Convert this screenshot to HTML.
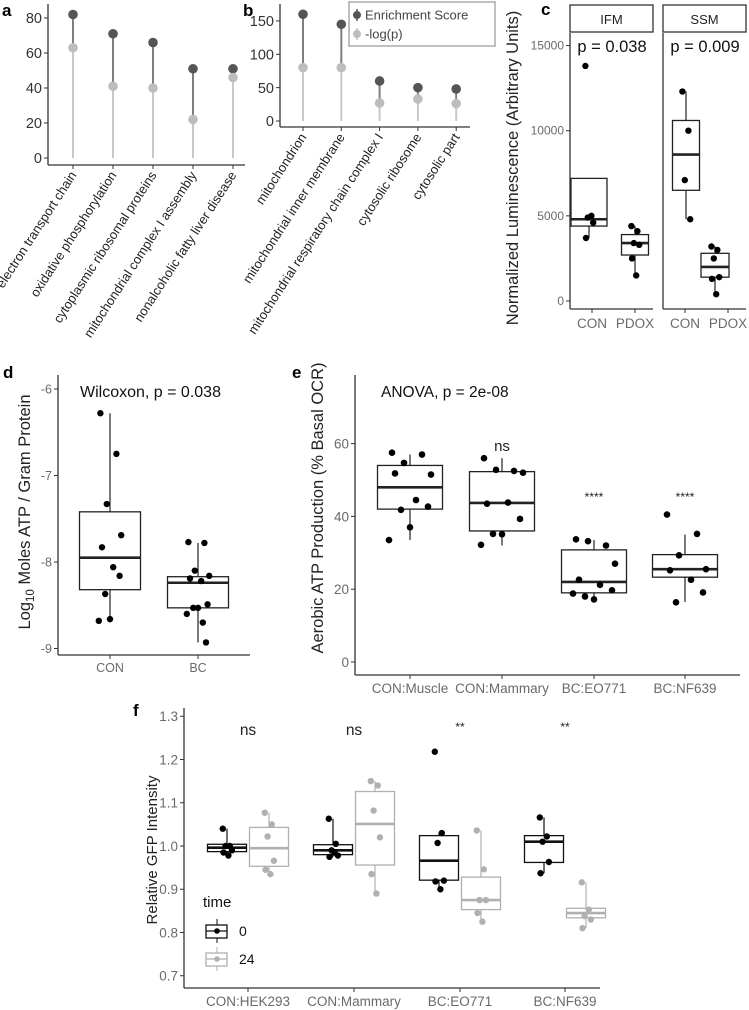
<!DOCTYPE html>
<html><head><meta charset="utf-8"><style>
html,body{margin:0;padding:0;background:#fff}
svg{display:block;font-family:"Liberation Sans",Arial,sans-serif}
</style></head><body>
<svg id="fig" width="749" height="1010" viewBox="0 0 749 1010">
<g id="pa"></g>
<g id="pb"></g>
<g id="pc"></g>
<g id="pd"></g>
<g id="pe"></g>
<g id="pf"></g>
</svg>
<script>
// ---- Panel a data
const aCats=["electron transport chain","oxidative phosphorylation","cytoplasmic ribosomal proteins","mitochondrial complex I assembly","nonalcoholic fatty liver disease"];
const aES=[82,71,66,51,51];
const aLogP=[63,41,40,22,46];
const aTicks=[0,20,40,60,80];
// ---- Panel b data
const bCats=["mitochondrion","mitochondrial inner membrane","mitochondrial respiratory chain complex I","cytosolic ribosome","cytosolic part"];
const bES=[160,145,60,50,48];
const bLogP=[80,80,27,33,26];
const bTicks=[0,50,100,150];
// ---- Panel c data
const cGroups=["IFM CON","IFM PDOX","SSM CON","SSM PDOX"];
const cBoxes=[[3700,4400,4800,7200,7200],[1500,2700,3400,3900,4400],[4800,6500,8600,10600,12300],[400,1400,2000,2800,3200]];
const cPoints=[[13800,5000,4900,4600,3700],[4400,4100,3400,3300,2500,1500],[12300,10000,7100,4800],[3200,3000,2500,1400,1300,400]];
const cTicks=[0,5000,10000,15000];
// ---- Panel d data
const dCats=["CON","BC"];
const dBoxes=[[-8.7,-8.32,-7.95,-7.42,-6.28],[-8.93,-8.53,-8.24,-8.17,-7.78]];
const dPoints=[[-6.28,-6.75,-7.33,-7.69,-7.83,-8.06,-8.16,-8.37,-8.66,-8.68],[-7.77,-7.78,-8.1,-8.16,-8.19,-8.22,-8.49,-8.53,-8.53,-8.6,-8.7,-8.93]];
const dTicks=[-9,-8,-7,-6];
// ---- Panel e data
const eCats=["CON:Muscle","CON:Mammary","BC:EO771","BC:NF639"];
const eBoxes=[[33.5,42,48,54,57],[32,36,43.7,52.3,56],[17,19,22,30.8,33.5],[16.5,23.3,25.5,29.5,35]];
const ePoints=[[57.5,57,54.7,51.5,51.8,44.5,42.7,41.8,37,33.5],[56,52.5,52.8,52,43.5,43.8,39.3,35.2,35.1,32.2],[33.7,32,33.2,27,22.6,21.2,19.7,18,17.2,18.8],[40.5,35.2,29.3,25.5,25.2,22.6,19.1,16.4]];
const eSig=["","ns","****","****"];
const eTicks=[0,20,40,60];
// ---- Panel f data
const fCats=["CON:HEK293","CON:Mammary","BC:EO771","BC:NF639"];
const fBoxes0=[[0.978,0.987,0.996,1.004,1.04],[0.975,0.98,0.99,1.003,1.063],[0.9,0.921,0.966,1.024,1.03],[0.937,0.962,1.01,1.024,1.066]];
const fBoxes24=[[0.935,0.953,0.995,1.043,1.077],[0.89,0.956,1.051,1.126,1.15],[0.825,0.853,0.875,0.928,1.036],[0.81,0.834,0.845,0.856,0.916]];
const fPoints0=[[1.04,1.0,1.0,0.99,0.985,0.978],[1.063,1.005,0.99,0.978,0.975,0.985],[1.218,1.03,1.007,0.92,0.918,0.9],[1.066,1.022,1.01,0.963,0.937]];
const fPoints24=[[1.077,1.05,1.022,0.966,0.945,0.935],[1.15,1.14,1.082,1.02,0.935,0.89],[1.036,0.946,0.875,0.875,0.845,0.825],[0.916,0.853,0.838,0.83,0.81]];
const fSig=["ns","ns","**","**"];
const fTicks=[0.7,0.8,0.9,1.0,1.1,1.2,1.3];

const NS="http://www.w3.org/2000/svg";
function mk(parent,tag,attrs,text){const e=document.createElementNS(NS,tag);for(const k in attrs)e.setAttribute(k,attrs[k]);if(text!==undefined)e.textContent=text;parent.appendChild(e);return e;}
const jit=[-6,4,-2,7,-5,2,6,-3,0,-7,3,5];

function axes(g,x0,x1,yTop,yBot,ticks,ys,fmt,fs,col){
  let e=mk(g,'line',{x1:x0,y1:yTop,x2:x0,y2:yBot,stroke:'#333','stroke-width':1.3});
  
  e=mk(g,'line',{x1:x0,y1:yBot,x2:x1,y2:yBot,stroke:'#333','stroke-width':1.3});
  
  ticks.forEach(t=>{const y=ys(t);
    let l=mk(g,'line',{x1:x0-4,y1:y,x2:x0,y2:y,stroke:'#333','stroke-width':1});
    
    let tx=mk(g,'text',{x:x0-6,y:y+fs*0.36,'text-anchor':'end','font-size':fs,fill:col},fmt(t));
    });
}
function xtick(g,x,yBot,label,fs,col,ly){
  let l=mk(g,'line',{x1:x,y1:yBot,x2:x,y2:yBot+4,stroke:'#333','stroke-width':1});
  
  let t=mk(g,'text',{x:x,y:ly,'text-anchor':'middle','font-size':fs,fill:col},label);
  
}
function box(g,cx,w,b,ys,col,lw){
  let e=mk(g,'line',{x1:cx,y1:ys(b[0]),x2:cx,y2:ys(b[1]),stroke:col,'stroke-width':1.2});
  
  e=mk(g,'line',{x1:cx,y1:ys(b[3]),x2:cx,y2:ys(b[4]),stroke:col,'stroke-width':1.2});
  
  e=mk(g,'rect',{x:cx-w/2,y:ys(b[3]),width:w,height:ys(b[1])-ys(b[3]),fill:'#fff','fill-opacity':0,stroke:col,'stroke-width':lw||1.3});
  
  e=mk(g,'line',{x1:cx-w/2,y1:ys(b[2]),x2:cx+w/2,y2:ys(b[2]),stroke:col,'stroke-width':2.6});
  
}
function pts(g,cx,vals,ys,col,r,sc){
  vals.forEach((v,i)=>{let c=mk(g,'circle',{cx:cx+jit[i%jit.length]*(sc||1),cy:ys(v),r:r||3.3,fill:col});
    });
}
function plabel(g,x,y,s){let t=mk(g,'text',{x:x,y:y,'font-size':17,'font-weight':'bold',fill:'#000'},s);
  }
function ytitle(g,x,y,s,fs){let t=mk(g,'text',{x:x,y:y,'text-anchor':'middle','font-size':fs,fill:'#222',transform:`rotate(-90 ${x} ${y})`},s);
  return t;}

// ---------- lollipop panels
function lolli(g,cats,es,lp,ticks,x0,x1,yBot,ys,xs,tickFs){
  axes(g,x0,x1,4,yBot,ticks,ys,t=>t,tickFs,'#333');
  cats.forEach((c,i)=>{const x=xs(i);
    let l=mk(g,'line',{x1:x,y1:ys(0),x2:x,y2:ys(lp[i]),stroke:'#c8c8c8','stroke-width':2});
    
    l=mk(g,'line',{x1:x,y1:ys(lp[i]),x2:x,y2:ys(es[i]),stroke:'#7f7f7f','stroke-width':2});
    
    let p=mk(g,'circle',{cx:x,cy:ys(es[i]),r:4.8,fill:'#555'});
    
    p=mk(g,'circle',{cx:x,cy:ys(lp[i]),r:4.8,fill:'#bdbdbd'});
    
    let tk=mk(g,'line',{x1:x,y1:yBot,x2:x,y2:yBot+4,stroke:'#333'});
    
    const ty=yBot+10;
    let t=mk(g,'text',{x:x+4,y:ty,'text-anchor':'end','font-size':13,fill:'#222',transform:`rotate(-57 ${x+4} ${ty})`},c);
    
  });
}
const pa=document.getElementById('pa');
const aY=v=>158-v*1.75, aX=i=>73+i*40;
lolli(pa,aCats,aES,aLogP,aTicks,48,245,165,aY,aX,14.5);
plabel(pa,2,16,'a');
const pb=document.getElementById('pb');
const bY=v=>121-v*0.667, bX=i=>303+i*38.3;
lolli(pb,bCats,bES,bLogP,bTicks,280,470,127,bY,bX,14.5);
plabel(pb,243,16,'b');
// legend b
(function(){const g=mk(pb,'g',{});
 let r=mk(g,'rect',{x:349,y:2,width:146,height:44,fill:'#fff',stroke:'#aaa','stroke-width':1.5});
 
 [['Enrichment Score','#555',15],['-log(p)','#bdbdbd',34]].forEach(([s,c,y])=>{
  let l=mk(g,'line',{x1:357,y1:y-6,x2:357,y2:y+6,stroke:c,'stroke-width':1.5});
  let ci=mk(g,'circle',{cx:357,cy:y,r:4,fill:c});
  let t=mk(g,'text',{x:365,y:y+4.5,'font-size':13,fill:'#444'},s);});
})();

// ---------- panel c
const pc=document.getElementById('pc');
const cY=v=>301-v*0.01703;
plabel(pc,541,15,'c');
[[570,653,'IFM'],[663,746,'SSM']].forEach(([x0,x1,s])=>{
  let r=mk(pc,'rect',{x:x0,y:5,width:x1-x0,height:27,fill:'#fff',stroke:'#333','stroke-width':1.3});
  
  let t=mk(pc,'text',{x:(x0+x1)/2,y:24,'text-anchor':'middle','font-size':13,fill:'#222'},s);
  
  let l=mk(pc,'line',{x1:x0,y1:33,x2:x0,y2:309,stroke:'#333','stroke-width':1.3});
  l=mk(pc,'line',{x1:x0,y1:309,x2:x1,y2:309,stroke:'#333','stroke-width':1.3});
});
cTicks.forEach(t=>{const y=cY(t);
  let l=mk(pc,'line',{x1:566,y1:y,x2:570,y2:y,stroke:'#333'});
  let tx=mk(pc,'text',{x:564,y:y+4,'text-anchor':'end','font-size':12,fill:'#6a6a6a'},t);});
const cX=[589,635,686,715], cW=[36,27,27,28], cLX=[592,635,685,728];
cGroups.forEach((gname,i)=>{box(pc,cX[i],cW[i],cBoxes[i],cY,'#222');pts(pc,cX[i],cPoints[i],cY,'#000',3.2,0.6);
  xtick(pc,cLX[i],309,gname.split(' ')[1],13.5,'#6a6a6a',328);});
[['p = 0.038',612],['p = 0.009',705]].forEach(([s,x])=>{let t=mk(pc,'text',{x:x,y:52,'text-anchor':'middle','font-size':16.5,fill:'#111'},s);});
ytitle(pc,518,168,'Normalized Luminescence (Arbitrary Units)',16.5);

// ---------- panel d
const pd=document.getElementById('pd');
const dY=v=>389+(-6-v)*86.5;
plabel(pd,3,378,'d');
axes(pd,58,250,375,655,dTicks,dY,t=>'-'+Math.abs(t),12.5,'#6a6a6a');
const dX=[110,198];
dCats.forEach((c,i)=>{box(pd,dX[i],61,dBoxes[i],dY,'#222');pts(pd,dX[i],dPoints[i],dY,'#000',3.2,1.6);xtick(pd,dX[i],655,c,12.5,'#6a6a6a',672);});
(function(){let t=mk(pd,'text',{x:80,y:397,'font-size':16,fill:'#111'},'Wilcoxon, p = 0.038');})();
(function(){const x=30,y=512;let t=mk(pd,'text',{x:x,y:y,'text-anchor':'middle','font-size':16.5,fill:'#222',transform:`rotate(-90 ${x} ${y})`});
 
 mk(t,'tspan',{},'Log');mk(t,'tspan',{'font-size':11.5,dy:4},'10');mk(t,'tspan',{dy:-4},' Moles ATP / Gram Protein');})();

// ---------- panel e
const pe=document.getElementById('pe');
const eY=v=>662-v*3.64;
plabel(pe,292,378,'e');
axes(pe,355,740,375,675,eTicks,eY,t=>t,13.5,'#6a6a6a');
const eX=[410,502,594,685];
eCats.forEach((c,i)=>{box(pe,eX[i],65,eBoxes[i],eY,'#222');pts(pe,eX[i],ePoints[i],eY,'#000',3.3,3);xtick(pe,eX[i],675,c,13.5,'#6a6a6a',693);
  if(eSig[i]){let t=mk(pe,'text',{x:eX[i],y:eSig[i]==='ns'?451:501,'text-anchor':'middle','font-size':eSig[i]==='ns'?15:12,fill:'#222'},eSig[i]);}});
(function(){let t=mk(pe,'text',{x:381,y:397,'font-size':15.5,fill:'#111'},'ANOVA, p = 2e-08');})();
ytitle(pe,323,508,'Aerobic ATP Production (% Basal OCR)',16.5);

// ---------- panel f
const pf=document.getElementById('pf');
const fY=v=>846-(v-1)*432.5;
plabel(pf,133,716,'f');
axes(pf,184,600,708,988,fTicks,fY,t=>t.toFixed(1),13.5,'#6a6a6a');
const fX=[248,354,460,565];
fCats.forEach((c,i)=>{
  box(pf,fX[i]-21,39,fBoxes0[i],fY,'#111');pts(pf,fX[i]-21,fPoints0[i],fY,'#000',3.2,0.7);
  box(pf,fX[i]+21,39,fBoxes24[i],fY,'#b0b0b0');pts(pf,fX[i]+21,fPoints24[i],fY,'#b0b0b0',3.2,0.7);
  xtick(pf,fX[i],988,c,13.5,'#6a6a6a',1006);
  let t=mk(pf,'text',{x:fX[i],y:fSig[i]==='ns'?735:731,'text-anchor':'middle','font-size':fSig[i]==='ns'?15.5:12,fill:'#222'},fSig[i]);});
ytitle(pf,157,850,'Relative GFP Intensity',15);
(function(){const g=mk(pf,'g',{});
 let t=mk(g,'text',{x:203,y:907,'font-size':15,fill:'#111'},'time');
 [['0','#111','#000',931],['24','#b0b0b0','#b0b0b0',959]].forEach(([s,c,pc2,y])=>{
  let l=mk(g,'line',{x1:217,y1:y-12,x2:217,y2:y+12,stroke:c});
  let r=mk(g,'rect',{x:206,y:y-6,width:21,height:13,fill:'#fff',stroke:c,'stroke-width':1.3});
  let ln=mk(g,'line',{x1:206,y1:y,x2:227,y2:y,stroke:c,'stroke-width':1.3});
  let ci=mk(g,'circle',{cx:217,cy:y,r:2.8,fill:pc2});
  let tt=mk(g,'text',{x:239,y:y+5,'font-size':14,fill:'#111'},s);});
})();
</script>
</body></html>
